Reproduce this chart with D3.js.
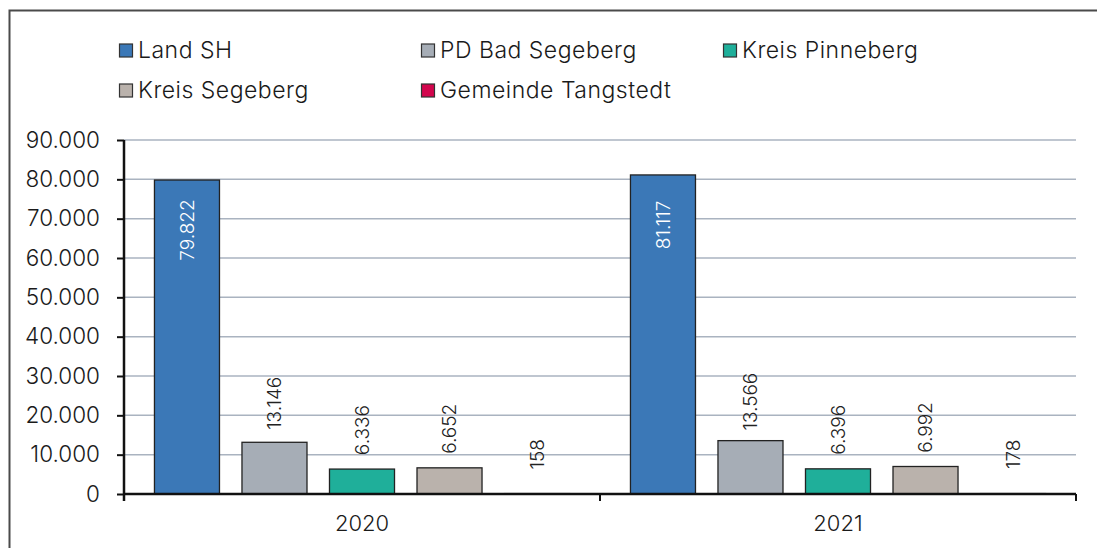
<!DOCTYPE html>
<html>
<head>
<meta charset="utf-8">
<script src="https://cdn.jsdelivr.net/npm/d3@7"></script>
<style>
  body { margin: 0; background: #fff; }
  svg { display: block; font-family: Inter, "Noto Sans", sans-serif; }
</style>
</head>
<body>
<svg id="chart" width="1097" height="548"></svg>
<script>
// data
const years = ["2020", "2021"];
const seriesNames = ["Land SH", "PD Bad Segeberg", "Kreis Pinneberg", "Kreis Segeberg", "Gemeinde Tangstedt"];
const values2020 = [79822, 13146, 6336, 6652, 158];
const values2021 = [81117, 13566, 6396, 6992, 178];
const yTicks = [0, 10000, 20000, 30000, 40000, 50000, 60000, 70000, 80000, 90000];

const seriesColors = ["#3B78B7", "#A6ADB6", "#1FAF9A", "#BAB2AC", "#D2064D"];

const rows = years.map((yr, i) => ({
  year: yr,
  values: (i === 0 ? values2020 : values2021).map((v, j) => ({ name: seriesNames[j], value: v }))
}));

const de = d3.formatLocale({ decimal: ",", thousands: ".", grouping: [3], currency: ["", " €"] });
const fmt = de.format(",d");

const margin = { top: 140, right: 21, bottom: 54, left: 124 };
const width = 1097, height = 548;
const fontFam = "Inter, 'Noto Sans', sans-serif";

const svg = d3.select("#chart");

// outer frame (only top & left visible in the crop)
svg.append("rect")
  .attr("x", 9.5).attr("y", 10.5)
  .attr("width", 1120).attr("height", 560)
  .attr("fill", "none")
  .attr("stroke", "#4a4a4a")
  .attr("stroke-width", 2);

const x0 = d3.scaleBand()
  .domain(years)
  .range([margin.left, width - margin.right]);

const x1 = d3.scaleBand()
  .domain(seriesNames)
  .range([0, x0.bandwidth()])
  .paddingInner(0.257)
  .paddingOuter(0.348);

const y = d3.scaleLinear()
  .domain([0, 90000])
  .range([height - margin.bottom, margin.top]);

// gridlines
svg.append("g")
  .selectAll("line")
  .data(yTicks.filter(d => d > 0))
  .join("line")
  .attr("x1", margin.left).attr("x2", width - margin.right)
  .attr("y1", d => y(d)).attr("y2", d => y(d))
  .attr("stroke", "#AAB3C0")
  .attr("stroke-width", 1.5);

// bars
const groups = svg.append("g")
  .selectAll("g")
  .data(rows)
  .join("g")
  .attr("transform", d => `translate(${x0(d.year)},0)`);

groups.selectAll("rect")
  .data(d => d.values)
  .join("rect")
  .attr("x", d => x1(d.name))
  .attr("y", d => y(d.value))
  .attr("width", x1.bandwidth())
  .attr("height", d => y(0) - y(d.value))
  .attr("fill", (d, i) => seriesColors[i])
  .attr("stroke", (d) => d.value < 1000 ? "#d8d8d8" : "#222")
  .attr("stroke-width", 1.3);

// value labels (rotated)
groups.selectAll("text.val")
  .data(d => d.values)
  .join("text")
  .attr("class", "val")
  .attr("transform", d => {
    const cx = x1(d.name) + x1.bandwidth() / 2;
    const inside = d.value > 50000;
    const cy = inside ? y(d.value) + 50 : y(d.value) - 39;
    return `translate(${cx},${cy}) rotate(-90)`;
  })
  .attr("text-anchor", "middle")
  .attr("dy", "0.35em")
  .attr("font-size", 19)
  .attr("font-weight", 300)
  .attr("fill", d => d.value > 50000 ? "#fff" : "#222")
  .text(d => fmt(d.value));

// y axis
const yAxis = svg.append("g")
  .attr("transform", `translate(${margin.left},0)`)
  .call(d3.axisLeft(y).tickValues(yTicks).tickFormat(fmt).tickSize(7).tickPadding(17));
yAxis.select(".domain").remove();
yAxis.selectAll(".tick line").attr("stroke", "#111").attr("stroke-width", 2);
yAxis.selectAll(".tick text")
  .attr("font-size", 22.5)
  .attr("font-weight", 300)
  .attr("font-family", fontFam)
  .attr("fill", "#1a1a1a");
yAxis.append("line")
  .attr("x1", 0).attr("x2", 0)
  .attr("y1", y(90000)).attr("y2", y(0) + 7)
  .attr("stroke", "#111").attr("stroke-width", 2.5);

// x axis
const xAxis = svg.append("g")
  .attr("transform", `translate(0,${y(0)})`);
xAxis.append("line")
  .attr("x1", margin.left).attr("x2", width - margin.right)
  .attr("stroke", "#111").attr("stroke-width", 2.5);
const bounds = years.map(d => x0(d)).concat([x0(years[years.length - 1]) + x0.bandwidth()]);
xAxis.selectAll("line.tk")
  .data(bounds)
  .join("line")
  .attr("class", "tk")
  .attr("x1", d => d).attr("x2", d => d)
  .attr("y1", 0).attr("y2", 7)
  .attr("stroke", "#111").attr("stroke-width", 2);
xAxis.selectAll("text")
  .data(years)
  .join("text")
  .attr("x", d => x0(d) + x0.bandwidth() / 2)
  .attr("y", 37)
  .attr("text-anchor", "middle")
  .attr("font-size", 22)
  .attr("font-weight", 300)
  .attr("fill", "#1a1a1a")
  .text(d => d);

// legend
const legendPos = [[119, 50], [421, 50], [723, 50], [119, 90], [421, 90]];
const legend = svg.append("g")
  .selectAll("g")
  .data(seriesNames)
  .join("g")
  .attr("transform", (d, i) => `translate(${legendPos[i][0]},${legendPos[i][1]})`);
legend.append("rect")
  .attr("x", 0.5).attr("y", -6)
  .attr("width", 13).attr("height", 13)
  .attr("fill", (d, i) => seriesColors[i])
  .attr("stroke", "#333")
  .attr("stroke-width", 1.2);
legend.append("text")
  .attr("x", 19)
  .attr("y", 0)
  .attr("dy", "0.35em")
  .attr("font-size", 23)
  .attr("font-weight", 300)
  .attr("letter-spacing", 0.5)
  .attr("fill", "#1a1a1a")
  .text(d => d);
</script>
</body>
</html>
